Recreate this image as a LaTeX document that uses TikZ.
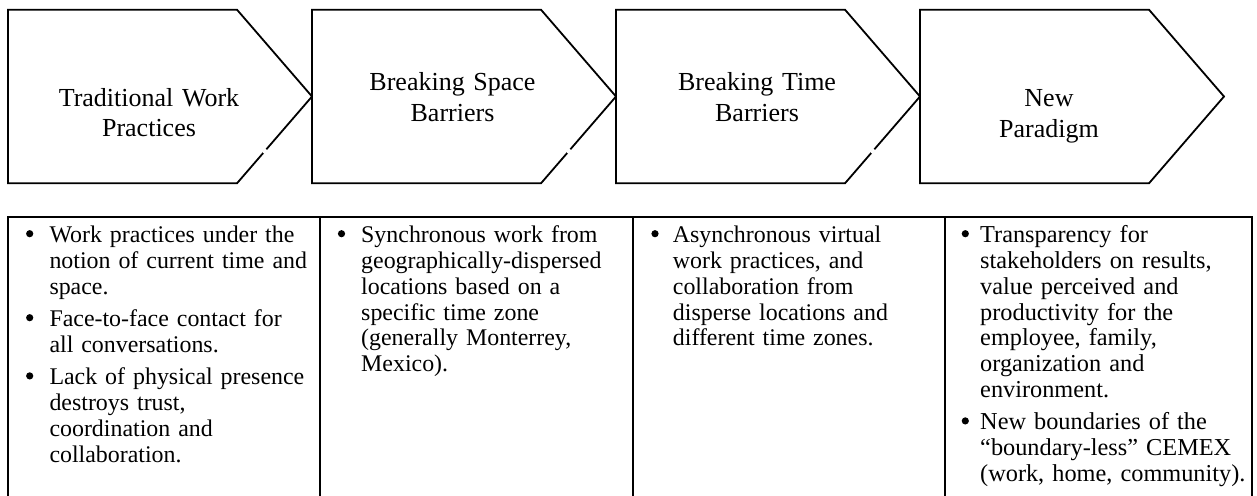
\documentclass[tikz,border=0pt]{standalone}
\usepackage{fontspec}
\setmainfont{Liberation Serif}
\begin{document}
\begin{tikzpicture}[x=1pt,y=-1pt,
  chev/.style={draw=black, line width=1.8pt, line join=miter, fill=white},
  gapmark/.style={draw=white, line width=3pt},
  headtext/.style={anchor=base, text width=260pt, align=center, inner sep=0pt,
    font=\fontsize{26}{30.5}\selectfont},
  itemtext/.style={anchor=base west, text width=300pt, align=left, inner sep=0pt,
    font=\fontsize{23.9}{25.8}\selectfont},
  wideitem/.style={itemtext, font=\fontsize{24.3}{25.8}\selectfont},
  bul/.style={circle, fill=black, inner sep=0pt, minimum size=7.2pt},
  grid/.style={draw=black, line width=1.8pt}
]
\useasboundingbox (0,0) rectangle (1257,495);
\clip (0,0) rectangle (1257,495);

% process chevrons
\foreach \x in {8,312,616,920}{
  \draw[chev] (\x,9.7) -- ++(229,0) -- ++(75,86.8) -- ++(-75,86.8) -- ++(-229,0) -- cycle;
}
% small breaks in the lower slanted edges
\foreach \x in {8,312,616}{
  \draw[gapmark] (\x+255.3,152.9) -- (\x+258.3,149.4);
}

% chevron captions
\node[headtext] (h1) at (149,106)   {Traditional Work\\Practices};
\node[headtext] (h2) at (452.5,90.7) {Breaking Space\\Barriers};
\node[headtext] (h3) at (757,90.7)   {Breaking Time\\Barriers};
\node[headtext] (h4) at (1049,106.5) {New\\Paradigm};

% description table
\draw[grid] (8,520) -- (8,217) -- (1252,217) -- (1252,520);
\foreach \x in {320,633,945}{
  \draw[grid] (\x,217) -- (\x,520);
}

% column 1
\node[bul] (b11) at (29.7,233.7) {};
\node[itemtext] (t11) at (49.3,242.7) {Work practices under the\\notion of current time and\\space.};
\node[bul] (b12) at (29.7,317.7) {};
\node[itemtext] (t12) at (49.3,326.7) {Face-to-face contact for\\all conversations.};
\node[bul] (b13) at (29.7,375.9) {};
\node[itemtext] (t13) at (49.3,384.9) {Lack of physical presence\\destroys trust,\\coordination and\\collaboration.};

% column 2
\node[bul] (b21) at (341.5,233.7) {};
\node[itemtext] (t21) at (361,242.7) {Synchronous work from\\geographically-dispersed\\locations based on a\\specific time zone\\(generally Monterrey,\\Mexico).};

% column 3
\node[bul] (b31) at (655,233.7) {};
\node[itemtext] (t31) at (672.7,242.7) {Asynchronous virtual\\work practices, and\\collaboration from\\disperse locations and\\different time zones.};

% column 4
\node[bul] (b41) at (965.3,233.7) {};
\node[wideitem] (t41) at (980,242.7) {Transparency for\\stakeholders on results,\\value perceived and\\productivity for the\\employee, family,\\organization and\\environment.};
\node[bul] (b42) at (965.3,420.9) {};
\node[wideitem] (t42) at (980,429.9) {New boundaries of the\\“boundary-less” CEMEX\\(work, home, community).};
\end{tikzpicture}
\end{document}
